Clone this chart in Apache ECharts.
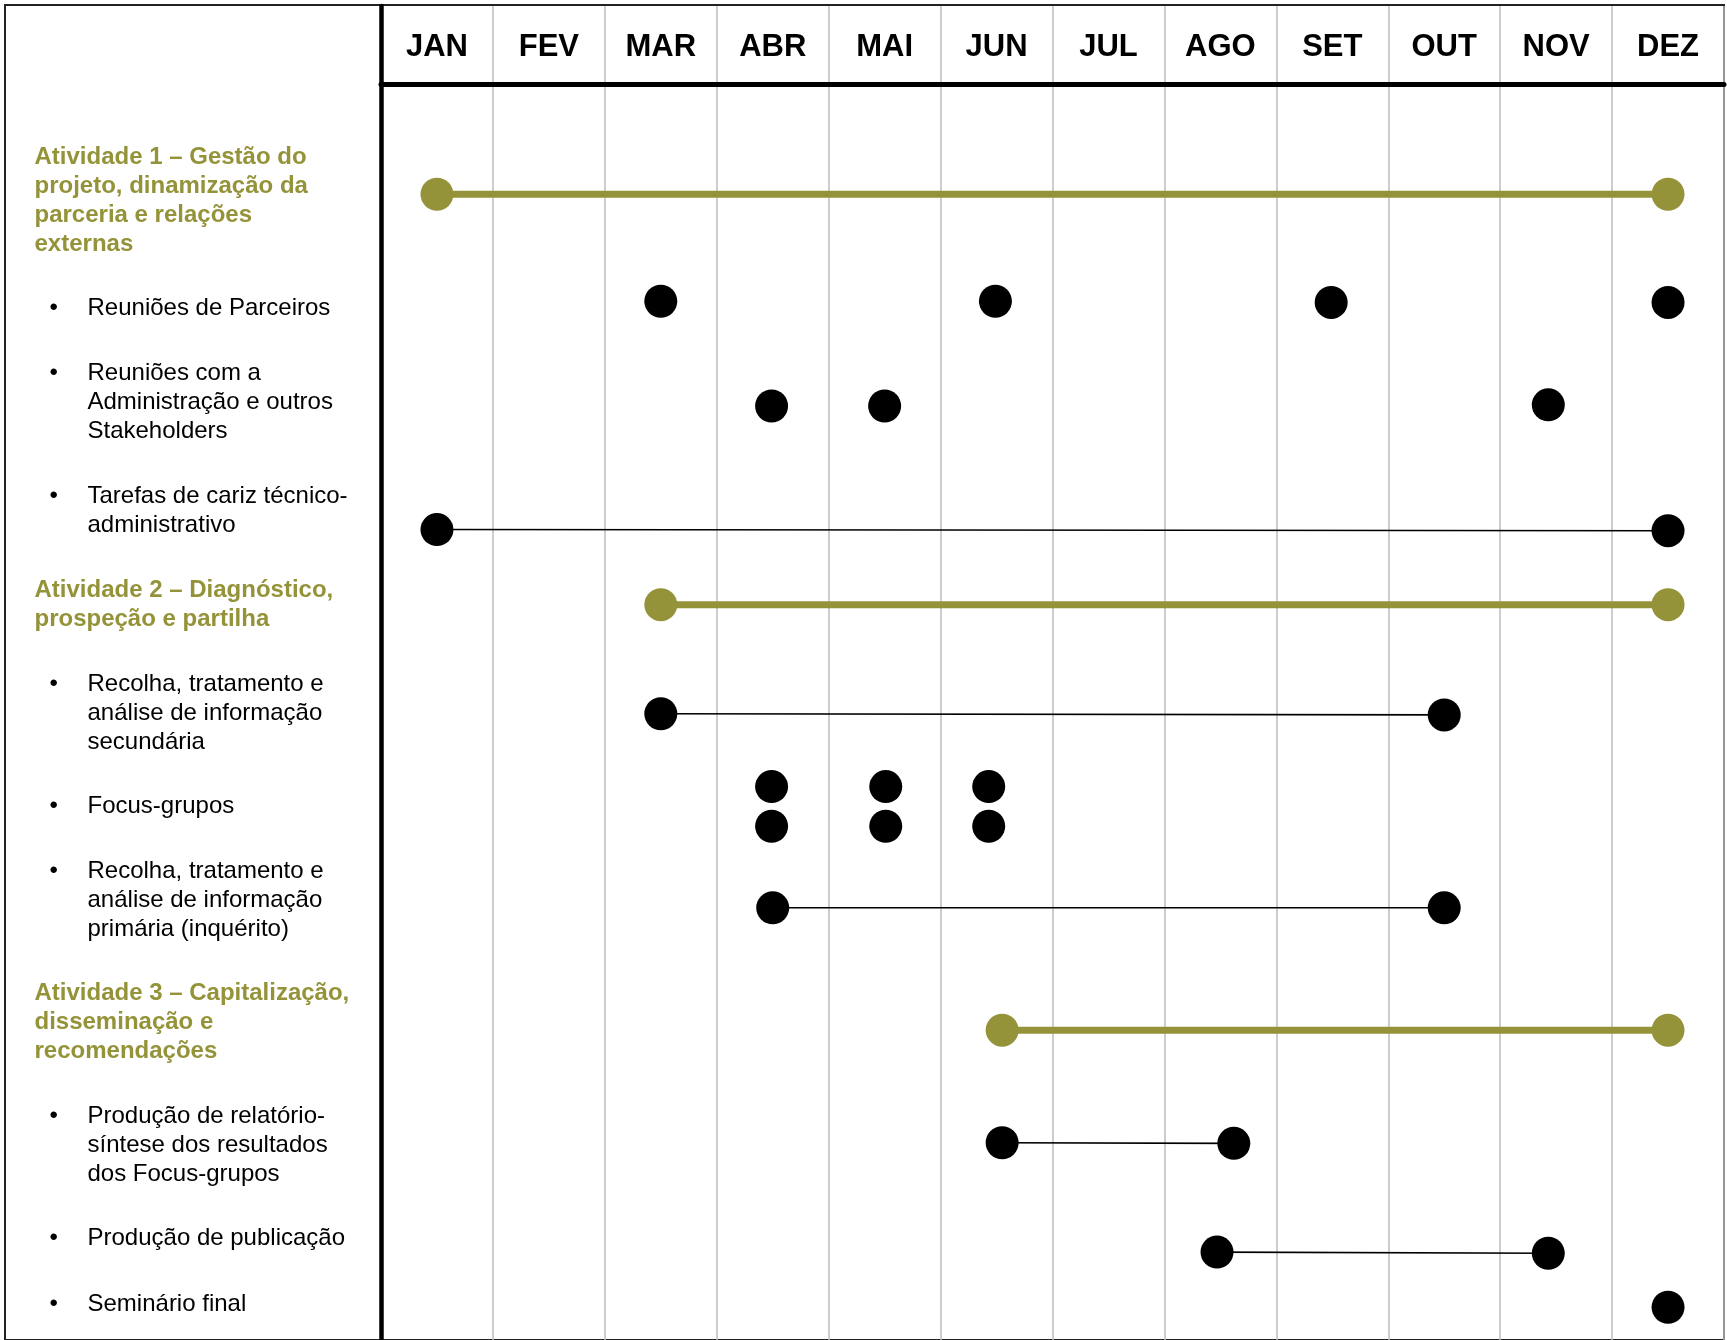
<!DOCTYPE html>
<html lang="pt">
<head>
  <meta charset="UTF-8">
  <title>Cronograma de atividades</title>
  <script src="https://cdn.jsdelivr.net/npm/echarts@6/dist/echarts.min.js"></script>
  <style>
    html, body {
      margin: 0;
      padding: 0;
      background: #fff;
    }
    #main {
      width: 1727px;
      height: 1340px;
    }
  </style>
</head>
<body>
  <div id="main"></div>

  <script>
    // meses do cronograma
    const months = ['JAN', 'FEV', 'MAR', 'ABR', 'MAI', 'JUN', 'JUL', 'AGO', 'SET', 'OUT', 'NOV', 'DEZ'];

    // linhas da coluna da esquerda (posição vertical em "linhas de texto")
    const rowLabels = [
      'Atividade 1 – Gestão do\nprojeto, dinamização da\nparceria e relações\nexternas',
      'Reuniões de Parceiros',
      'Reuniões com a\nAdministração e outros\nStakeholders',
      'Tarefas de cariz técnico-\nadministrativo',
      'Atividade 2 – Diagnóstico,\nprospeção e partilha',
      'Recolha, tratamento e\nanálise de informação\nsecundária',
      'Focus-grupos',
      'Recolha, tratamento e\nanálise de informação\nprimária (inquérito)',
      'Atividade 3 – Capitalização,\ndisseminação e\nrecomendações',
      'Produção de relatório-\nsíntese dos resultados\ndos Focus-grupos',
      'Produção de publicação',
      'Seminário final'
    ];
    const rowIsActivity = [true, false, false, false, true, false, false, false, true, false, false, false];
    const rowLabelY = [4.02, 7.72, 10.99, 14.72, 17.95, 21.71, 24.91, 28.14, 32.36, 36.58, 39.81, 42.06];

    // atividades (barras verdes), mês 1 = JAN
    const activityStart = [1, 3, 6.05];
    const activityEnd = [12, 12, 12];
    const activityY = [3.80, 17.95, 32.62];

    // tarefas com duração (linha fina preta)
    const spanStart = [1, 3, 4, 6.05, 7.97];
    const spanEnd = [12, 10, 10, 8.12, 10.93];
    const spanStartY = [15.36, 21.71, 28.40, 36.50, 40.27];
    const spanEndY = [15.40, 21.75, 28.40, 36.52, 40.31];

    // eventos pontuais (reuniões, focus-grupos, seminário)
    const eventMonth = [3, 5.99, 8.99, 12, 3.99, 5, 10.93, 3.99, 5.01, 5.93, 3.99, 5.01, 5.93, 12];
    const eventY = [7.49, 7.49, 7.53, 7.53, 11.10, 11.10, 11.06, 24.22, 24.22, 24.22, 25.59, 25.59, 25.59, 42.17];

    const GREEN = '#949339';
    const FONT = '"Liberation Sans", Arial, Helvetica, sans-serif';
    const DOT = 33;
    const Y_MAX = 43.3;

    const chart = echarts.init(document.getElementById('main'));

    // mês -> posição no eixo (0..12, coluna = [m-1, m])
    const mx = m => m - 0.5;

    const series = [];

    // rótulos da coluna esquerda
    series.push({
      type: 'scatter',
      xAxisIndex: 3,
      yAxisIndex: 2,
      symbolSize: 1,
      itemStyle: { color: 'rgba(0,0,0,0)', opacity: 1 },
      silent: true,
      data: rowLabels.map((t, i) => ({
        value: [0, rowLabelY[i]],
        label: {
          show: true,
          position: 'right',
          distance: 0,
          offset: rowIsActivity[i] ? [0, 0] : [53, 0],
          formatter: t,
          align: 'left',
          fontFamily: FONT,
          fontSize: 24,
          lineHeight: 29,
          fontWeight: rowIsActivity[i] ? 'bold' : 'normal',
          color: rowIsActivity[i] ? GREEN : '#000'
        }
      })).concat(rowLabels.map((t, i) => {
        if (rowIsActivity[i]) return null;
        const n = t.split('\n').length;
        return {
          value: [0, rowLabelY[i] - (n - 1) / 2],
          label: {
            show: true,
            position: 'right',
            distance: 0,
            offset: [15, 0],
            formatter: '•',
            fontFamily: FONT,
            fontSize: 24,
            color: '#000'
          }
        };
      }).filter(d => d))
    });

    // atividades
    activityStart.forEach((s, i) => {
      series.push({
        type: 'line',
        xAxisIndex: 1,
        yAxisIndex: 1,
        symbol: 'circle',
        symbolSize: DOT,
        showSymbol: true,
        itemStyle: { color: GREEN, opacity: 1 },
        lineStyle: { color: GREEN, width: 7 },
        z: 3,
        data: [[mx(s), activityY[i]], [mx(activityEnd[i]), activityY[i]]]
      });
    });

    // tarefas com duração
    spanStart.forEach((s, i) => {
      series.push({
        type: 'line',
        xAxisIndex: 1,
        yAxisIndex: 1,
        symbol: 'circle',
        symbolSize: DOT,
        showSymbol: true,
        itemStyle: { color: '#000', opacity: 1 },
        lineStyle: { color: '#000', width: 1.6 },
        z: 3,
        data: [[mx(s), spanStartY[i]], [mx(spanEnd[i]), spanEndY[i]]]
      });
    });

    // eventos pontuais
    series.push({
      type: 'scatter',
      xAxisIndex: 1,
      yAxisIndex: 1,
      symbolSize: DOT,
      itemStyle: { color: '#000', opacity: 1 },
      z: 3,
      data: eventMonth.map((m, i) => [mx(m), eventY[i]])
    });

    const gridLine = { show: true, lineStyle: { color: '#bdbdbd', width: 1.5 } };

    const option = {
      animation: false,
      backgroundColor: '#fff',
      grid: [
        // moldura exterior
        { left: 5, top: 5, right: 3, bottom: -20, show: true, borderColor: '#222', borderWidth: 2, backgroundColor: 'transparent' },
        // cabeçalho dos meses
        { left: 381, top: 6, right: 3, height: 78 },
        // corpo do cronograma
        { left: 381, top: 84, right: 3, height: 1256 },
        // coluna dos rótulos
        { left: 34, top: 84, width: 340, height: 1256 }
      ],
      xAxis: [
        { gridIndex: 1, type: 'value', min: 0, max: 12, interval: 1, axisLabel: { show: false }, axisLine: { show: false }, axisTick: { show: false }, splitLine: gridLine },
        { gridIndex: 2, type: 'value', min: 0, max: 12, interval: 1, axisLabel: { show: false }, axisLine: { show: false }, axisTick: { show: false }, splitLine: gridLine },
        {
          gridIndex: 2,
          type: 'category',
          position: 'top',
          data: months,
          boundaryGap: true,
          axisTick: { show: false },
          axisLine: { show: true, lineStyle: { color: '#000', width: 5 } },
          splitLine: { show: false },
          axisLabel: {
            margin: 37,
            verticalAlign: 'middle',
            interval: 0,
            fontFamily: FONT,
            fontSize: 31,
            fontWeight: 'bold',
            color: '#000'
          },
          z: 5
        },
        { gridIndex: 3, type: 'value', min: 0, max: 1, show: false }
      ],
      yAxis: [
        { gridIndex: 1, type: 'value', min: 0, max: 1, axisLabel: { show: false }, axisTick: { show: false }, splitLine: { show: false }, axisLine: { show: true, lineStyle: { color: '#000', width: 4.5 } } },
        { gridIndex: 2, type: 'value', min: 0, max: Y_MAX, inverse: true, axisLabel: { show: false }, axisTick: { show: false }, splitLine: { show: false }, axisLine: { show: true, lineStyle: { color: '#000', width: 4.5 } } },
        { gridIndex: 3, type: 'value', min: 0, max: Y_MAX, inverse: true, show: false }
      ],
      series: series
    };

    chart.setOption(option);
  </script>
</body>
</html>
